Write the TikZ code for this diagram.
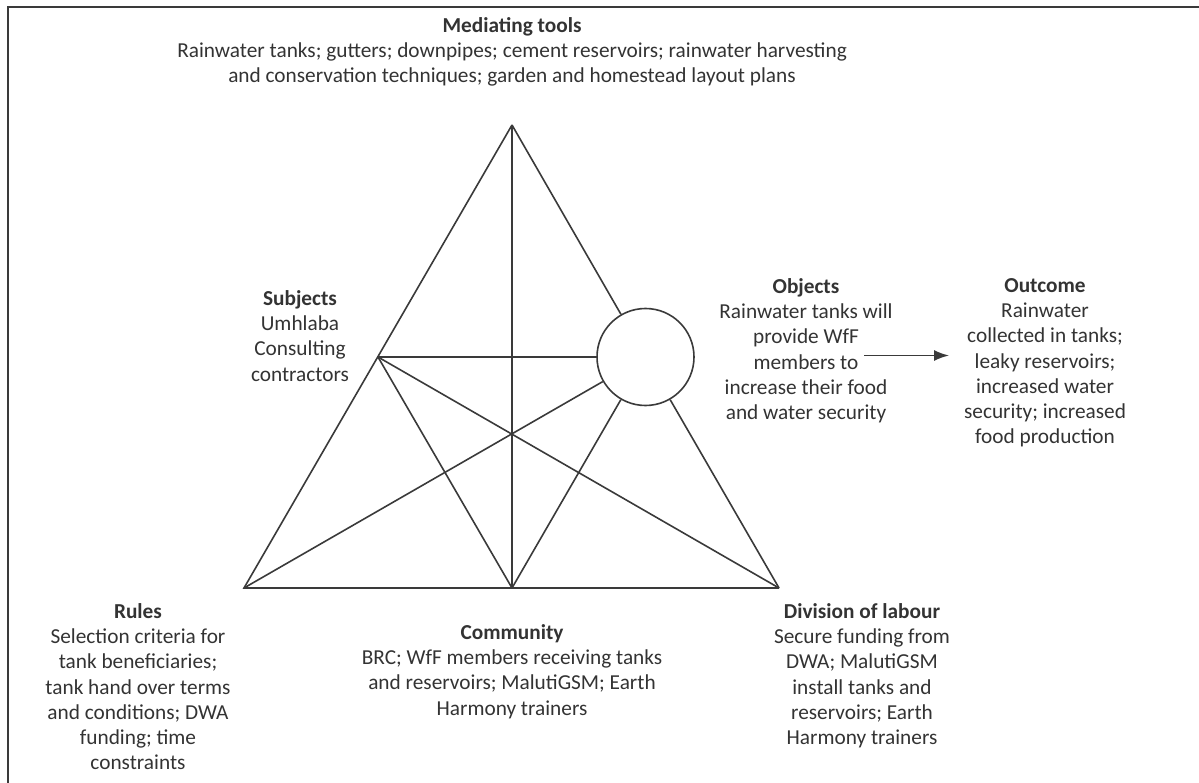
\documentclass[tikz,border=0pt]{standalone}
\usepackage{fontspec}
\setmainfont{Carlito}
\usetikzlibrary{arrows.meta}
\definecolor{ink}{HTML}{3A3A3A}
\definecolor{txt}{HTML}{333333}
\tikzset{
  edge/.style={draw=ink, line width=1.6pt},
  frame/.style={draw=ink, line width=2.4pt},
  label/.style={font=\fontsize{21.3}{25.3}\selectfont, text=txt, align=center, inner sep=0pt, anchor=north},
  hub/.style={circle, draw=ink, line width=1.6pt, minimum size=97pt, inner sep=0pt}
}
\begin{document}
\begin{tikzpicture}[x=1pt, y=-1pt]
\useasboundingbox (0,0) rectangle (1199,783);
% frame: top and left edges only
\coordinate (fTR) at (1199,7);
\coordinate (fTL) at (8,7);
\coordinate (fBL) at (8,783);
\draw[frame] (fTR) -- (fTL) -- (fBL);

% triangle corners and side midpoints
\coordinate (A) at (512,125);
\coordinate (BL) at (244,588);
\coordinate (BR) at (779,588);
\coordinate (BM) at (512,588);
\coordinate (LM) at (378,357);
\node[hub] (O) at (645.5,357) {};

% outer triangle
\draw[edge] (A) -- (BL) -- (BR);
\draw[edge] (A) -- (O);
\draw[edge] (O) -- (BR);
% medians
\draw[edge] (A) -- (BM);
\draw[edge] (LM) -- (O);
\draw[edge] (LM) -- (BM);
\draw[edge] (LM) -- (BR);
\draw[edge] (BL) -- (O);
\draw[edge] (BM) -- (O);

% labels
\node[label] (tools) at (512,17) {\textbf{Mediating tools}\\Rainwater tanks; gutters; downpipes; cement reservoirs; rainwater harvesting\\and conservation techniques; garden and homestead layout plans};
\node[label] (subj) at (300,290) {\textbf{Subjects}\\Umhlaba\\Consulting\\contractors};
\node[label] (obj) at (806,278) {\textbf{Objects}\\Rainwater tanks will\\provide WfF\\members to\\increase their food\\and water security};
\node[label] (out) at (1045,278) {\textbf{Outcome}\\Rainwater\\collected in tanks;\\leaky reservoirs;\\increased water\\security; increased\\food production};
\node[label] (rules) at (138,603) {\textbf{Rules}\\Selection criteria for\\tank beneficiaries;\\tank hand over terms\\and conditions; DWA\\funding; time\\constraints};
\node[label] (comm) at (512,624) {\textbf{Community}\\BRC; WfF members receiving tanks\\and reservoirs; MalutiGSM; Earth\\Harmony trainers};
\node[label] (div) at (862,603) {\textbf{Division of labour}\\Secure funding from\\DWA; MalutiGSM\\install tanks and\\reservoirs; Earth\\Harmony trainers};

% arrow towards the outcome
\coordinate (aS) at (864,355.5);
\coordinate (aE) at (949,355.5);
\draw[edge, -{Latex[length=15pt,width=11pt]}] (aS) -- (aE);
\end{tikzpicture}
\end{document}
